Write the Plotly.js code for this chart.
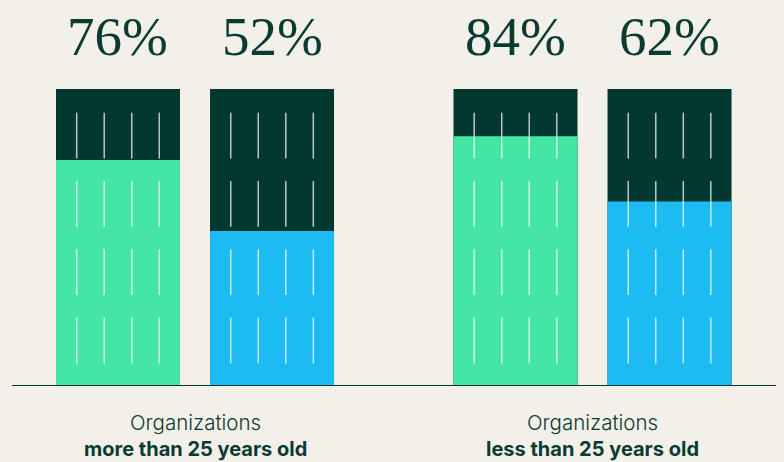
<!DOCTYPE html>
<html>
<head>
<meta charset="utf-8">
<script src="https://cdn.plot.ly/plotly-3.0.1.min.js"></script>
<style>html,body{margin:0;padding:0;background:#f2f0e9;}#chart{width:784px;height:462px;}</style>
</head>
<body>
<div id="chart"></div>
<script>
// ---- data ----
const groups = ['more than 25 years old', 'less than 25 years old'];
const groupPrefix = 'Organizations';
const greenValues = [76, 84];
const blueValues = [52, 62];
const fullValues = [100, 100];

// ---- style ----
const BG = '#f2f0e9';
const DARK = '#033831';
const GREEN = '#45e6a4';
const BLUE = '#1cbbf2';
const TEXT = '#0a3b33';
const bargap = 0.225, bargroupgap = 0.195;

const traces = [
  {type:'bar', x:groups, y:fullValues, offsetgroup:'a', marker:{color:DARK}, hoverinfo:'skip'},
  {type:'bar', x:groups, y:greenValues, offsetgroup:'a', marker:{color:GREEN}, hoverinfo:'skip'},
  {type:'bar', x:groups, y:fullValues, offsetgroup:'b', marker:{color:DARK}, hoverinfo:'skip'},
  {type:'bar', x:groups, y:blueValues, offsetgroup:'b', marker:{color:BLUE}, hoverinfo:'skip'}
];

// derived geometry (category units)
const slot = (1 - bargap) / 2;
const barW = slot * (1 - bargroupgap);
const offsets = [-slot / 2, slot / 2];
const seriesVals = [greenValues, blueValues];

const shapes = [];
const annotations = [];
groups.forEach((g, gi) => {
  offsets.forEach((off, si) => {
    const cx = gi + off;
    for (let k = 0; k < 4; k++) {
      const sx = cx + barW * (k - 1.5) * 0.222;
      for (let i = 0; i < 4; i++) {
        const y0 = 7.3 + 23.07 * i;
        shapes.push({type:'line', xref:'x', yref:'y', x0:sx, x1:sx, y0:y0, y1:y0 + 15.5,
          line:{color:'rgba(255,255,255,0.72)', width:1.5}, layer:'above'});
      }
    }
    annotations.push({xref:'x', yref:'y', x:cx, y:100, yanchor:'middle', yshift:53,
      text: seriesVals[si][gi] + '%', showarrow:false,
      font:{family:'Liberation Serif, serif', size:55, color:TEXT}});
  });
  annotations.push({xref:'x', yref:'paper', x:gi, y:0, yanchor:'middle', yshift:-37,
    text: groupPrefix, showarrow:false,
    font:{family:'Inter, sans-serif', size:20.5, color:TEXT, weight:300}});
  annotations.push({xref:'x', yref:'paper', x:gi, y:0, yanchor:'middle', yshift:-64,
    text: g, showarrow:false,
    font:{family:'Inter, sans-serif', size:20, color:TEXT, weight:700}});
});

const layout = {
  width:784, height:462,
  paper_bgcolor:BG, plot_bgcolor:BG,
  margin:{l:12, r:8, t:89, b:77},
  barmode:'group', bargap:bargap, bargroupgap:bargroupgap,
  showlegend:false,
  xaxis:{type:'category', range:[-0.4604, 1.4616], showticklabels:false, ticks:'',
    showgrid:false, zeroline:false, showline:true, linecolor:DARK, linewidth:1.2, fixedrange:true},
  yaxis:{range:[0, 100], visible:false, showgrid:false, zeroline:false, fixedrange:true},
  shapes:shapes,
  annotations:annotations
};

Plotly.newPlot('chart', traces, layout, {displayModeBar:false, staticPlot:true});
</script>
</body>
</html>
